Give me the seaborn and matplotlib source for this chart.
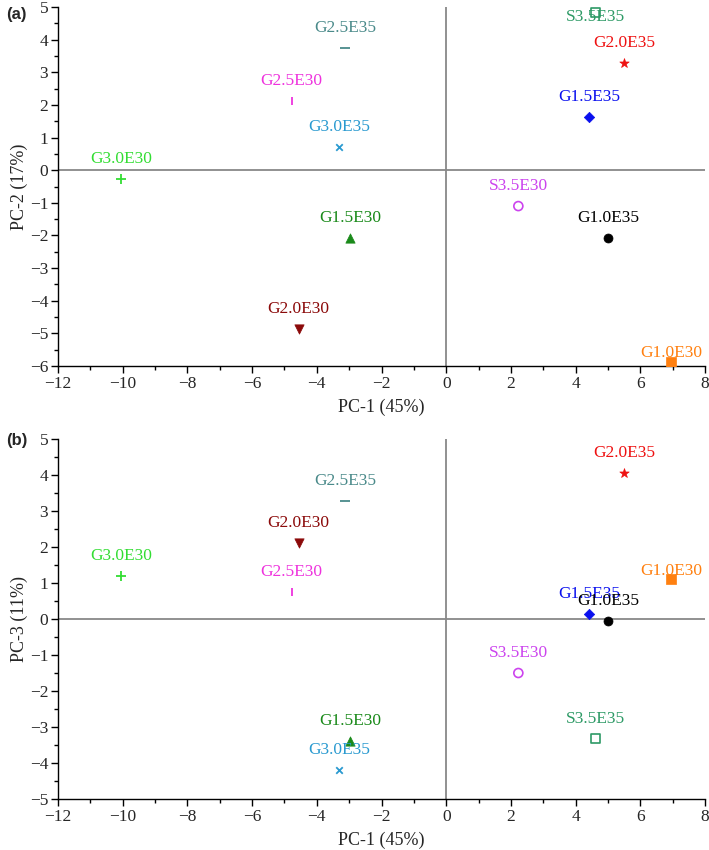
import matplotlib
matplotlib.use("Agg")
import matplotlib.pyplot as plt
from matplotlib.ticker import MultipleLocator
import seaborn as sns
import pandas as pd

sns.set_theme(style="white")
plt.rcParams['font.family'] = ['Liberation Serif', 'DejaVu Serif']

# ---- data ----
samples = ["G3.0E30", "G2.5E30", "G2.5E35", "G3.0E35", "G1.5E30", "G2.0E30",
           "S3.5E35", "G2.0E35", "G1.5E35", "S3.5E30", "G1.0E35", "G1.0E30"]
pc1 = [-10.06, -4.78, -3.12, -3.30, -2.98, -4.56, 4.60, 5.51, 4.42, 2.23, 5.00, 6.95]
pc2 = [-0.28, 2.12, 3.74, 0.71, -2.09, -4.88, 4.82, 3.28, 1.63, -1.10, -2.09, -5.89]
pc3 = [1.19, 0.75, 3.28, -4.19, -3.39, 2.11, -3.33, 4.05, 0.14, -1.50, -0.05, 1.10]
x_ticks = [-12, -10, -8, -6, -4, -2, 0, 2, 4, 6, 8]
y2_ticks = [-6, -5, -4, -3, -2, -1, 0, 1, 2, 3, 4, 5]
y3_ticks = [-5, -4, -3, -2, -1, 0, 1, 2, 3, 4, 5]

colors = {"G3.0E30": "#33dd33", "G2.5E30": "#ee33dd", "G2.5E35": "#4a8a8a",
          "G3.0E35": "#2a9ad0", "G1.5E30": "#1a8a1a", "G2.0E30": "#8b0a0a",
          "S3.5E35": "#2e9a66", "G2.0E35": "#ee1111", "G1.5E35": "#0a10ee",
          "S3.5E30": "#cc44ee", "G1.0E35": "#000000", "G1.0E30": "#ff8010"}
markers = {"G3.0E30": "+", "G2.5E30": "|", "G2.5E35": "_", "G3.0E35": "x",
           "G1.5E30": "^", "G2.0E30": "v", "S3.5E35": "s", "G2.0E35": "*",
           "G1.5E35": "D", "S3.5E30": "o", "G1.0E35": "o", "G1.0E30": "s"}
open_markers = {"S3.5E35", "S3.5E30"}
sizes = {"+": 45, "|": 40, "_": 45, "x": 22, "^": 45, "v": 45, "s": 42,
         "*": 50, "D": 28, "o": 42}

df = pd.DataFrame({"sample": samples, "pc1": pc1, "pc2": pc2, "pc3": pc3})

# label offsets in pixels (vertical), default 20 px above
off_a = {"S3.5E35": -4, "G1.0E30": 9}
off_b = {"G1.0E30": 8}

fig = plt.figure(figsize=(7.09, 8.5), dpi=100)
ax_a = fig.add_axes([58 / 709, 1 - 366 / 850, (705 - 58) / 709, (366 - 7) / 850])
ax_b = fig.add_axes([58 / 709, 1 - 799 / 850, (705 - 58) / 709, (799 - 439) / 850])


def draw(ax, ycol, ylim, yticks, ylabel, offsets):
    ax.axhline(0, color="#888888", lw=1.3, zorder=1)
    ax.axvline(0, color="#888888", lw=1.3, zorder=1)
    for s in samples:
        sub = df[df["sample"] == s]
        m = markers[s]
        c = colors[s]
        kw = dict(marker=m, s=sizes[m], zorder=3, legend=False)
        if s in open_markers:
            kw.update(facecolor="none", edgecolor=c, linewidth=1.2)
        elif m in ["+", "|", "_", "x"]:
            kw.update(color=c, linewidth=1.3)
        else:
            kw.update(color=c, edgecolor=c, linewidth=0.5)
        sns.scatterplot(data=sub, x="pc1", y=ycol, ax=ax, **kw)
        dy = offsets.get(s, 20) * 0.72
        ax.annotate(s, (sub["pc1"].iloc[0], sub[ycol].iloc[0]),
                    xytext=(0, dy), textcoords="offset points",
                    ha="center", va="center", color=c, fontsize=12.5, zorder=4)
    ax.set_xlim(-12, 8)
    ax.set_ylim(*ylim)
    ax.set_xticks(x_ticks)
    ax.set_yticks(yticks)
    ax.set_xticklabels([str(t).replace("-", "\u2212") for t in x_ticks])
    ax.set_yticklabels([str(t).replace("-", "\u2212") for t in yticks])
    ax.xaxis.set_minor_locator(MultipleLocator(1))
    ax.yaxis.set_minor_locator(MultipleLocator(0.5))
    ax.tick_params(axis="both", which="major", direction="out", length=5,
                   width=1, labelsize=12.5, color="black", left=True, bottom=True, pad=2)
    ax.tick_params(axis="both", which="minor", direction="out", length=3,
                   width=1, color="black", left=True, bottom=True)
    for sp in ["top", "right"]:
        ax.spines[sp].set_visible(False)
    for sp in ["left", "bottom"]:
        ax.spines[sp].set_color("black")
        ax.spines[sp].set_linewidth(1.0)
    ax.set_xlabel("PC-1 (45%)", fontsize=13, labelpad=5)
    ax.set_ylabel(ylabel, fontsize=13, labelpad=1)
    ax.set_facecolor("white")


draw(ax_a, "pc2", (-6, 5), y2_ticks, "PC-2 (17%)", off_a)
draw(ax_b, "pc3", (-5, 5), y3_ticks, "PC-3 (11%)", off_b)

fig.text(6 / 709, 1 - 14 / 850, "(a)", fontsize=12, fontweight="bold",
         family="Liberation Sans", ha="left", va="center")
fig.text(6 / 709, 1 - 440 / 850, "(b)", fontsize=12, fontweight="bold",
         family="Liberation Sans", ha="left", va="center")

fig.savefig("out.png", dpi=100, facecolor="white")
